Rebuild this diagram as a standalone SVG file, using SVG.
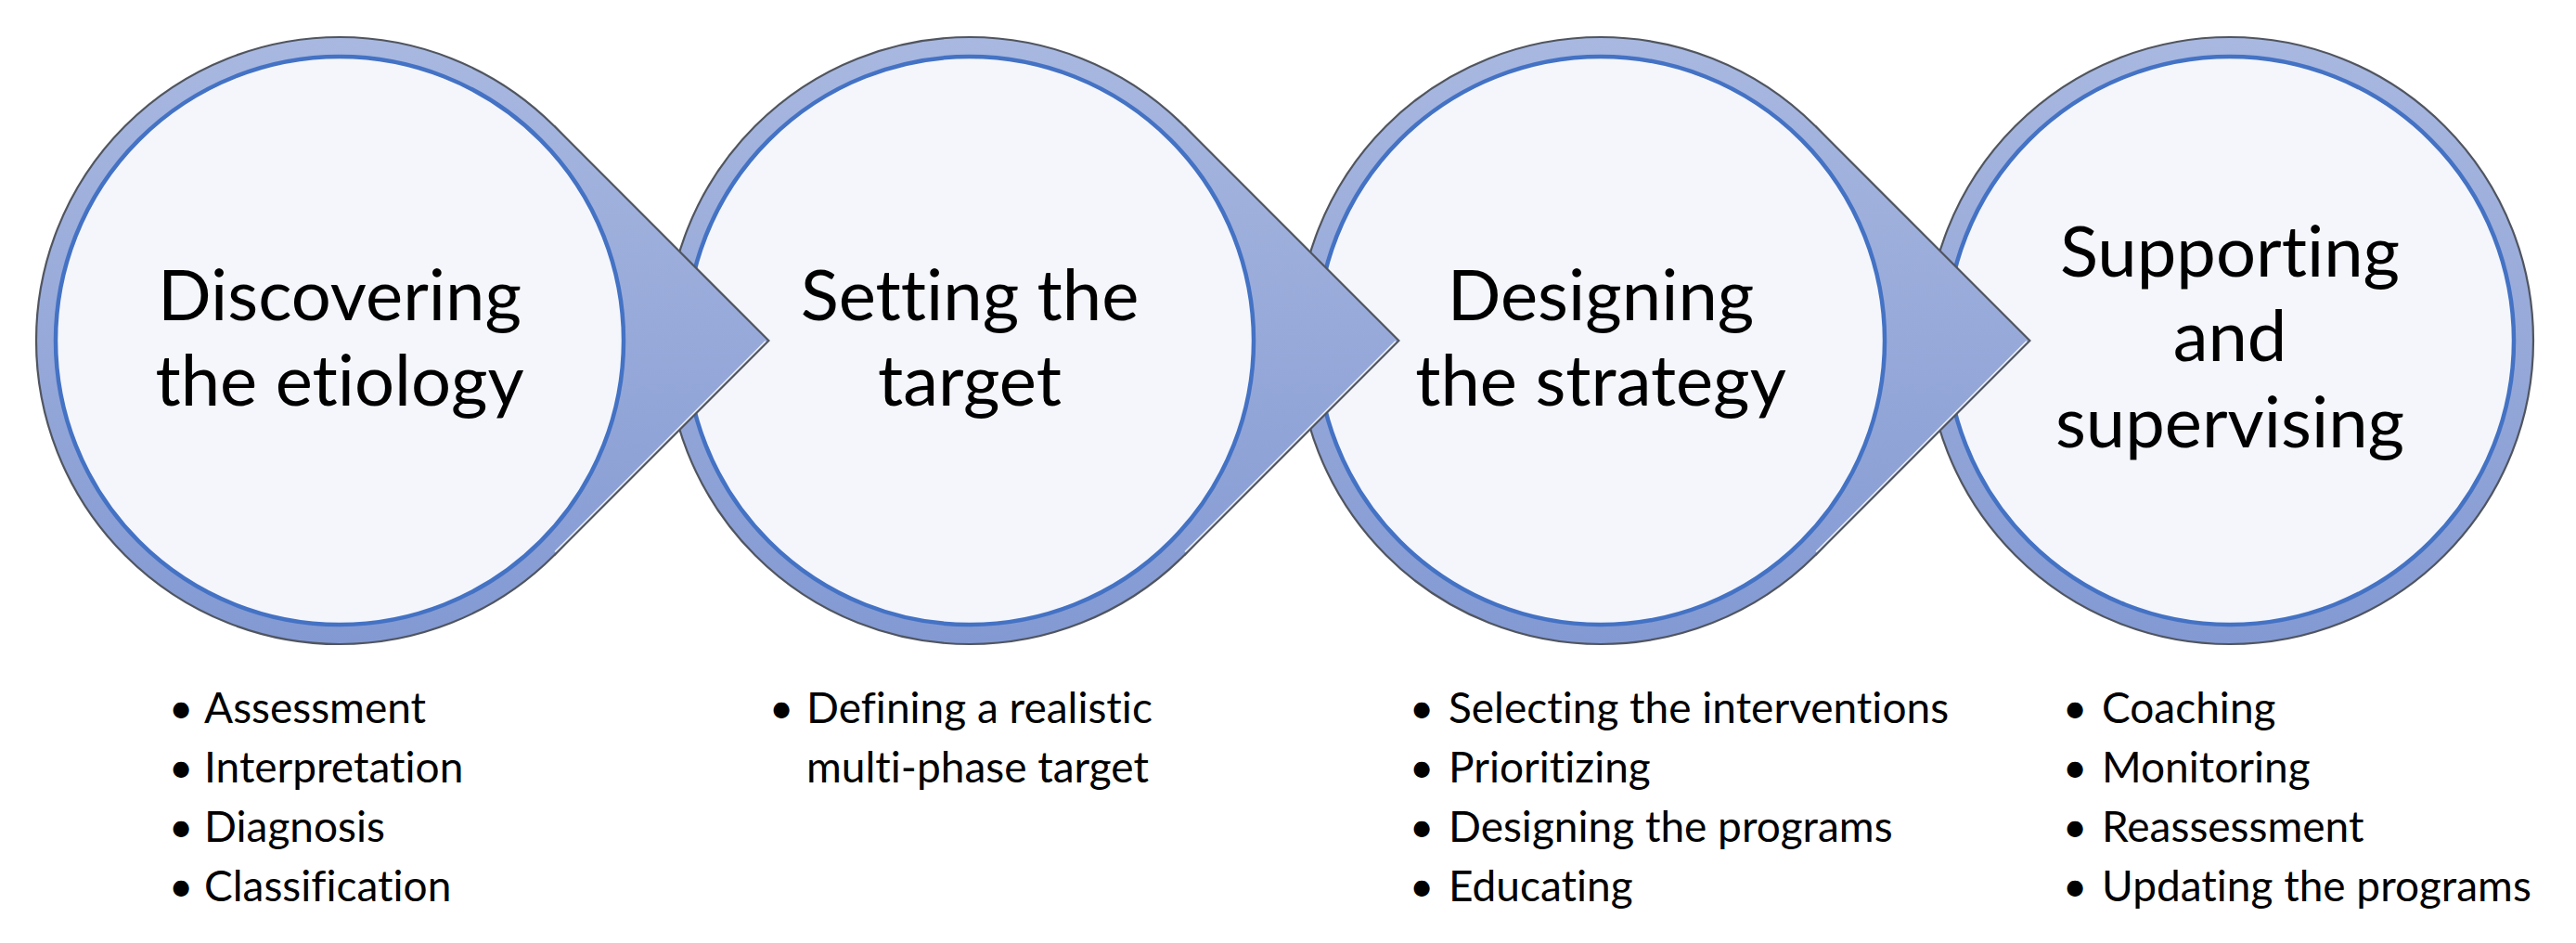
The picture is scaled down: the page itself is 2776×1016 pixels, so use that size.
<svg xmlns="http://www.w3.org/2000/svg" width="2776" height="1016" viewBox="0 0 2776 1016">
  <defs>
    <linearGradient id="ringGrad" gradientUnits="userSpaceOnUse" x1="0" y1="-327" x2="0" y2="327">
      <stop offset="0" stop-color="#a8b8e0"/>
      <stop offset="0.5" stop-color="#97a9d9"/>
      <stop offset="1" stop-color="#8299d3"/>
    </linearGradient>
    <path id="arrowFill" d="M231.2,-231.2 L462.4,0 L231.2,231.2 L227.7,227.7 A322,322 0 0 0 227.7,-227.7 Z"/>
    <path id="arrowEdge" d="M231.2,-231.2 L462.4,0 L231.2,231.2"/>
    <path id="arrowHighlight" d="M232,227.6 L459,0.6"/>
  </defs>
  <style>
    text { font-variant-ligatures: none; font-feature-settings: "liga" 0, "clig" 0; }
    .ring { fill: url(#ringGrad); stroke: #50555f; stroke-width: 2.2; }
    .face { fill: #f4f6fb; stroke: #4472c4; stroke-width: 4.5; }
    .title { font-family: Lato, "Open Sans", "Liberation Sans", sans-serif; font-size: 76px; fill: #000; text-anchor: middle; }
    .item { font-family: Lato, "Open Sans", "Liberation Sans", sans-serif; font-size: 46px; fill: #000; }
    .bullet { font-family: Lato, "Liberation Sans", sans-serif; font-size: 46px; fill: #000; text-anchor: middle; }
    .arrow-fill { fill: url(#ringGrad); stroke: none; }
    .arrow-edge { fill: none; stroke: #50555f; stroke-width: 2.2; stroke-linejoin: miter; }
    .arrow-hl { fill: none; stroke: #ffffff; stroke-width: 1.5; opacity: 0.8; }
  </style>

  <rect x="0" y="0" width="2776" height="1016" fill="#ffffff"/>

  <g id="node4">
    <g transform="translate(2403 367)">
      <circle class="ring" cx="0" cy="0" r="327"/>
      <circle class="face" cx="0" cy="0" r="306"/>
      <text class="title" x="0" y="-69">Supporting</text>
      <text class="title" x="0" y="22">and</text>
      <text class="title" x="0" y="115">supervising</text>
    </g>
    <text class="bullet" x="2236" y="779">•</text>
    <text class="bullet" x="2236" y="843">•</text>
    <text class="bullet" x="2236" y="907">•</text>
    <text class="bullet" x="2236" y="971">•</text>
    <text class="item" x="2265" y="779">Coaching</text>
    <text class="item" x="2265" y="843">Monitoring</text>
    <text class="item" x="2265" y="907">Reassessment</text>
    <text class="item" x="2265" y="971">Updating the programs</text>
  </g>

  <g id="node3">
    <g transform="translate(1725 367)">
      <circle class="ring" cx="0" cy="0" r="327"/>
      <circle class="face" cx="0" cy="0" r="306"/>
      <text class="title" x="0" y="-22.5">Designing</text>
      <text class="title" x="0" y="69.5">the strategy</text>
    </g>
    <text class="bullet" x="1532" y="779">•</text>
    <text class="bullet" x="1532" y="843">•</text>
    <text class="bullet" x="1532" y="907">•</text>
    <text class="bullet" x="1532" y="971">•</text>
    <text class="item" x="1561" y="779">Selecting the interventions</text>
    <text class="item" x="1561" y="843">Prioritizing</text>
    <text class="item" x="1561" y="907">Designing the programs</text>
    <text class="item" x="1561" y="971">Educating</text>
  </g>

  <g id="node2">
    <g transform="translate(1045 367)">
      <circle class="ring" cx="0" cy="0" r="327"/>
      <circle class="face" cx="0" cy="0" r="306"/>
      <text class="title" x="0" y="-22.5">Setting the</text>
      <text class="title" x="0" y="69.5">target</text>
    </g>
    <text class="bullet" x="842" y="779">•</text>
    <text class="item" x="869" y="779">Defining a realistic</text>
    <text class="item" x="869" y="843">multi-phase target</text>
  </g>

  <g id="node1">
    <g transform="translate(366 367)">
      <circle class="ring" cx="0" cy="0" r="327"/>
      <circle class="face" cx="0" cy="0" r="306"/>
      <text class="title" x="0" y="-22.5">Discovering</text>
      <text class="title" x="0" y="69.5">the etiology</text>
    </g>
    <text class="bullet" x="195" y="779">•</text>
    <text class="bullet" x="195" y="843">•</text>
    <text class="bullet" x="195" y="907">•</text>
    <text class="bullet" x="195" y="971">•</text>
    <text class="item" x="220" y="779">Assessment</text>
    <text class="item" x="220" y="843">Interpretation</text>
    <text class="item" x="220" y="907">Diagnosis</text>
    <text class="item" x="220" y="971">Classification</text>
  </g>

  <g id="connectors">
    <g id="arrow1-2" transform="translate(366 367)">
      <use href="#arrowFill" class="arrow-fill"/>
      <use href="#arrowEdge" class="arrow-edge"/>
      <use href="#arrowHighlight" class="arrow-hl"/>
    </g>
    <g id="arrow2-3" transform="translate(1045 367)">
      <use href="#arrowFill" class="arrow-fill"/>
      <use href="#arrowEdge" class="arrow-edge"/>
      <use href="#arrowHighlight" class="arrow-hl"/>
    </g>
    <g id="arrow3-4" transform="translate(1725 367)">
      <use href="#arrowFill" class="arrow-fill"/>
      <use href="#arrowEdge" class="arrow-edge"/>
      <use href="#arrowHighlight" class="arrow-hl"/>
    </g>
  </g>
</svg>
